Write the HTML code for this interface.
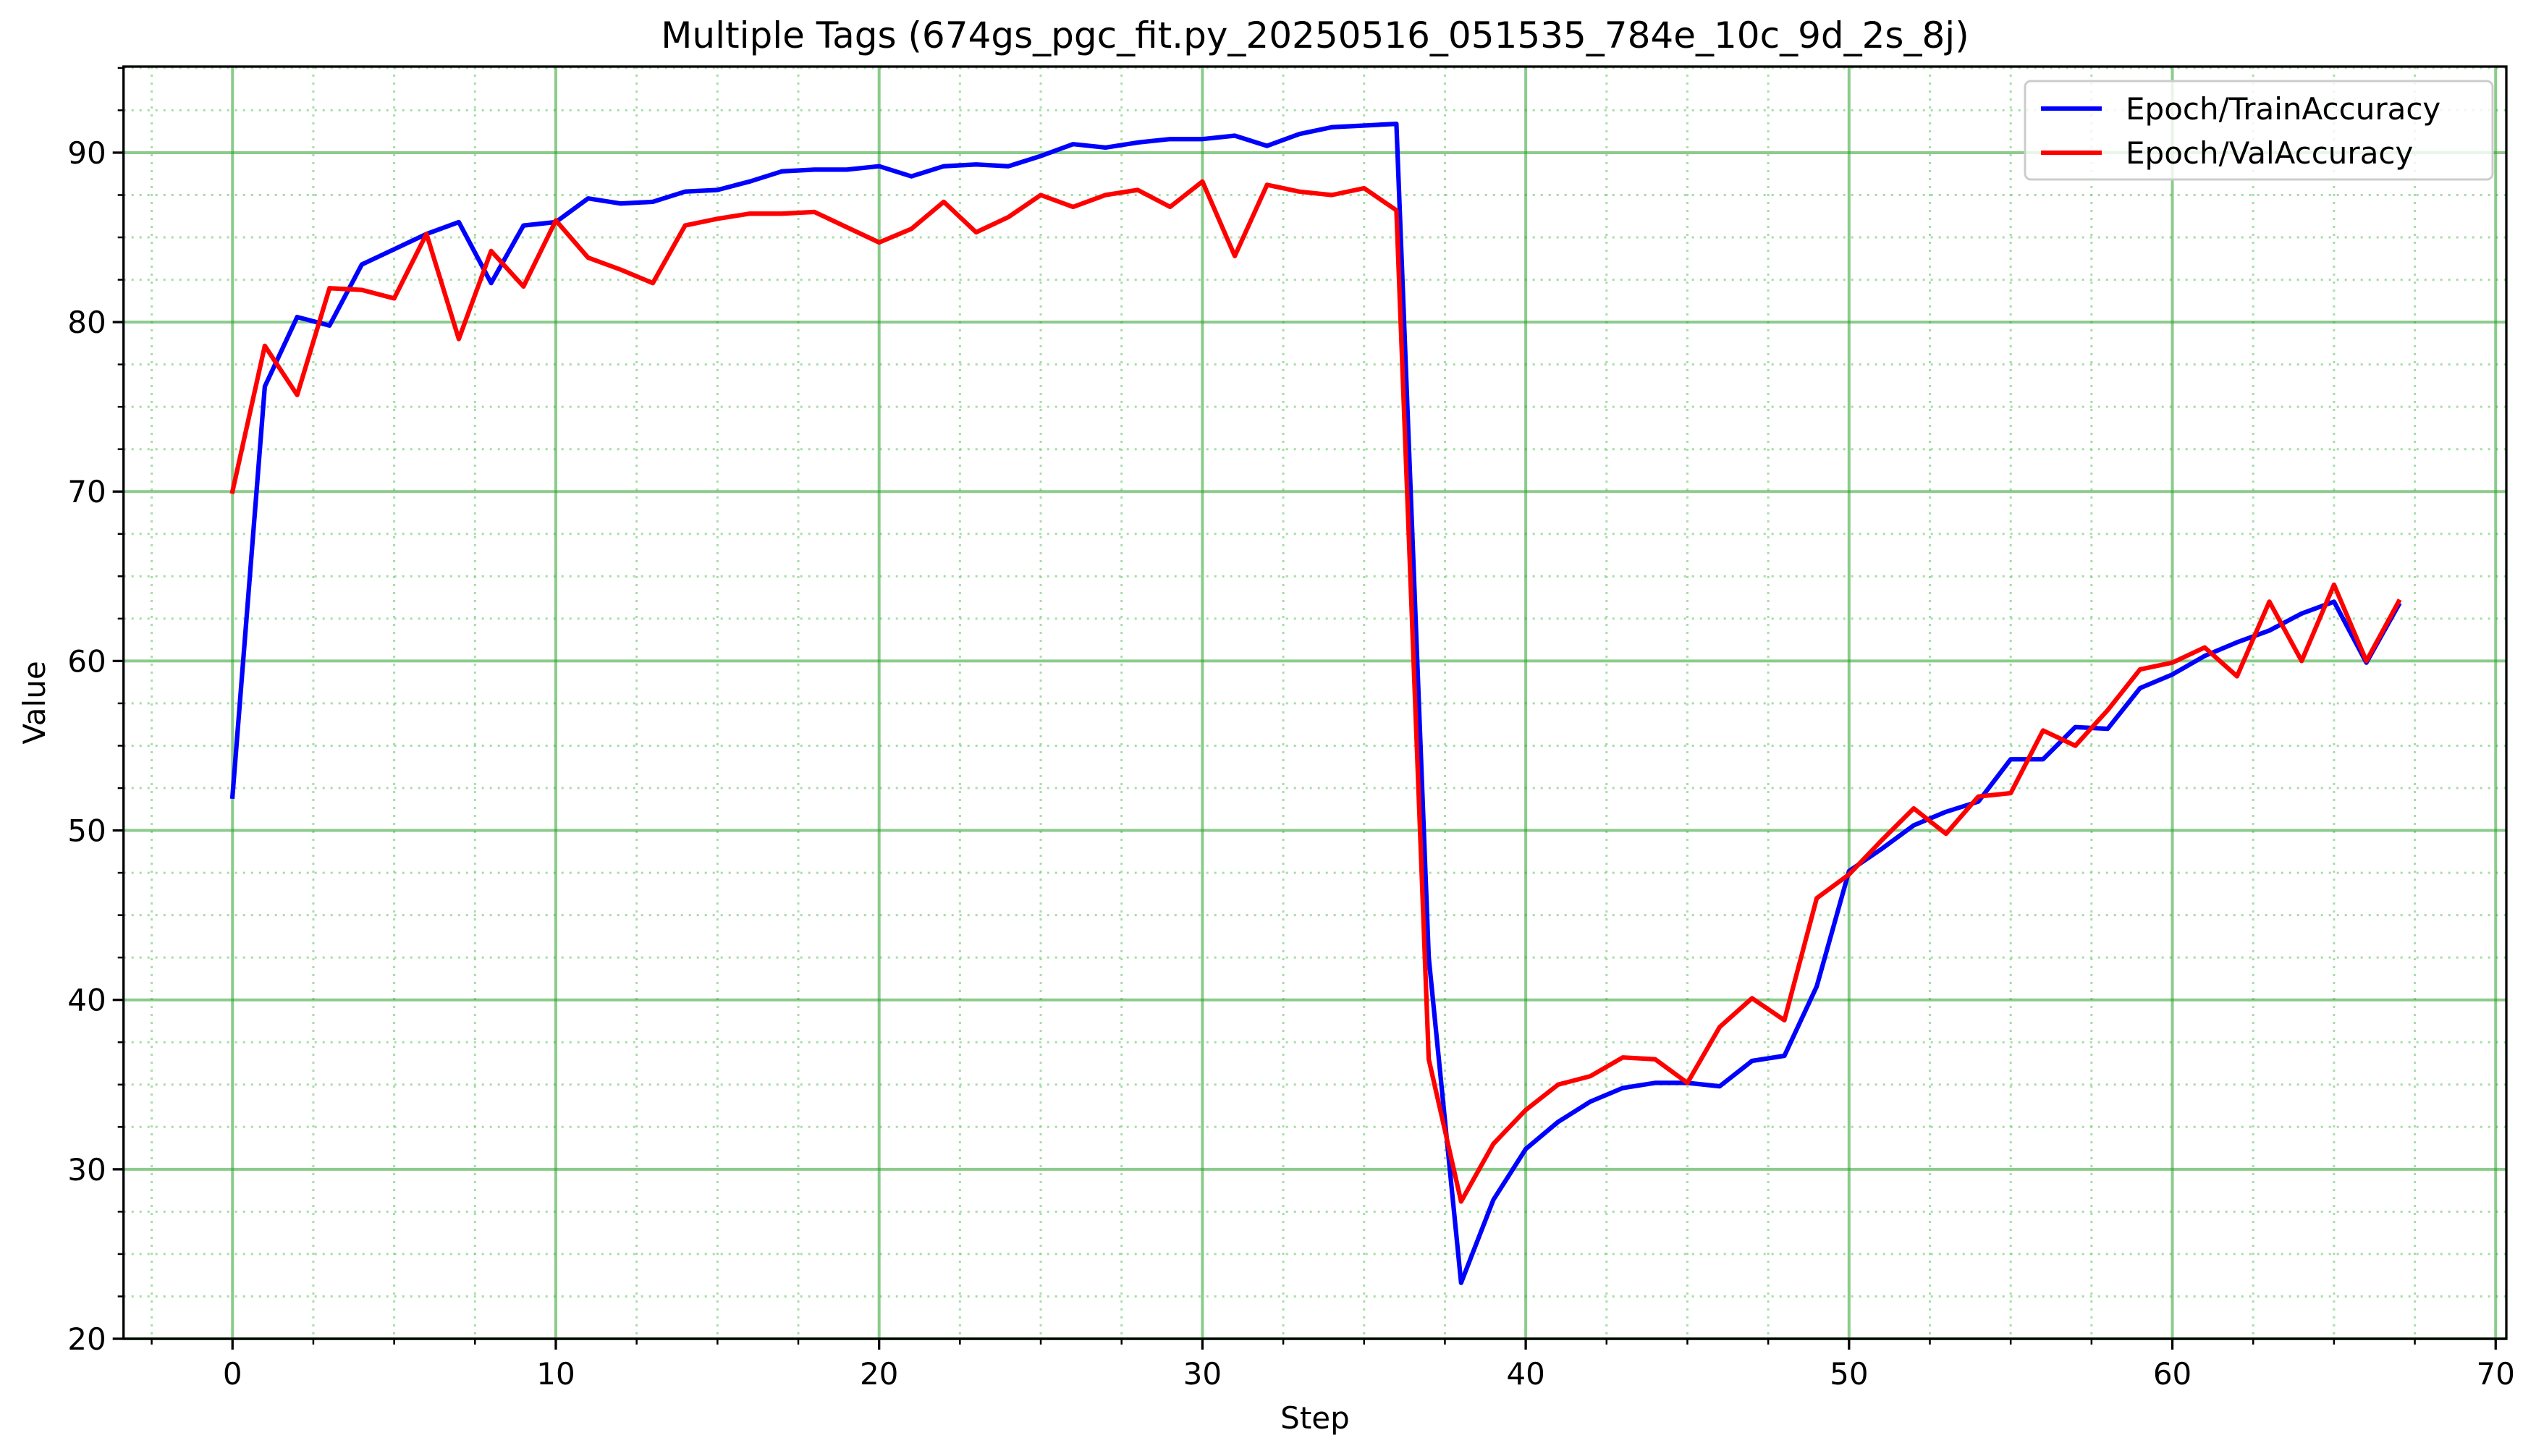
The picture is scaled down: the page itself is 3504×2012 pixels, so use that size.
<!DOCTYPE html>
<html><head><meta charset="utf-8"><style>
html,body{margin:0;padding:0;background:#fff}
svg{display:block;font-family:"DejaVu Sans","Liberation Sans",sans-serif}
</style></head><body>
<svg id="chart" width="3504" height="2012" viewBox="0 0 3504 2012" xmlns="http://www.w3.org/2000/svg">
<rect width="3504" height="2012" fill="#fff"/>
<g id="grid"></g>
<g id="series"></g>
<g id="axes"></g>
<text x="1817" y="66" font-size="50" text-anchor="middle">Multiple Tags (674gs_pgc_fit.py_20250516_051535_784e_10c_9d_2s_8j)</text>
<text x="1817" y="1974" font-size="42" text-anchor="middle">Step</text>
<text x="62" y="971" font-size="42" text-anchor="middle" transform="rotate(-90 62 971)">Value</text>
<g>
<rect x="2798" y="112" width="646" height="136" rx="8" fill="#fff" fill-opacity="0.8" stroke="#ccc" stroke-width="3"/>
<line x1="2820" y1="150" x2="2904" y2="150" stroke="#0000ff" stroke-width="6"/>
<text x="2937" y="165" font-size="42">Epoch/TrainAccuracy</text>
<line x1="2820" y1="211" x2="2904" y2="211" stroke="#ff0000" stroke-width="6"/>
<text x="2937" y="226" font-size="42">Epoch/ValAccuracy</text>
</g>
</svg>
<script>
const steps = [];
for (let i = 0; i <= 67; i++) steps.push(i);
const trainAcc = [52,76.2,80.3,79.8,83.4,84.3,85.2,85.9,82.3,85.7,85.9,87.3,87.0,87.1,87.7,87.8,88.3,88.9,89.0,89.0,89.2,88.6,89.2,89.3,89.2,89.8,90.5,90.3,90.6,90.8,90.8,91.0,90.4,91.1,91.5,91.6,91.7,42.5,23.3,28.2,31.2,32.8,34.0,34.8,35.1,35.1,34.9,36.4,36.7,40.8,47.6,48.9,50.3,51.1,51.7,54.2,54.2,56.1,56.0,58.4,59.2,60.3,61.1,61.8,62.8,63.5,59.9,63.3];
const valAcc = [70,78.6,75.7,82.0,81.9,81.4,85.2,79.0,84.2,82.1,86.0,83.8,83.1,82.3,85.7,86.1,86.4,86.4,86.5,85.6,84.7,85.5,87.1,85.3,86.2,87.5,86.8,87.5,87.8,86.8,88.3,83.9,88.1,87.7,87.5,87.9,86.6,36.5,28.1,31.5,33.5,35.0,35.5,36.6,36.5,35.1,38.4,40.1,38.8,46.0,47.4,49.4,51.3,49.8,52.0,52.2,55.9,55.0,57.1,59.5,59.9,60.8,59.1,63.5,60.0,64.5,60.0,63.5];
const xTicks = [0,10,20,30,40,50,60,70];
const yTicks = [20,30,40,50,60,70,80,90];

const L=170.7,R=3463,T=92,B=1850;
const X0=-3.37,X1=70.33,Y0=20,Y1=95.08;
const sx=v=>L+(v-X0)/(X1-X0)*(R-L);
const sy=v=>B-(v-Y0)/(Y1-Y0)*(B-T);
const NS="http://www.w3.org/2000/svg";
function mk(tag,attrs,parent){const e=document.createElementNS(NS,tag);for(const k in attrs)e.setAttribute(k,attrs[k]);parent.appendChild(e);return e;}
const grid=document.getElementById('grid'),axes=document.getElementById('axes'),series=document.getElementById('series');

// minor grid
for(let v=-2.5;v<=70.3;v+=2.5){ if(Math.abs(v%10)<1e-6) continue;
  const l=mk('line',{x1:sx(v),x2:sx(v),y1:T,y2:B,stroke:'#7fd07f','stroke-opacity':0.7,'stroke-width':3,'stroke-dasharray':'3 8'},grid);
  
  
  const t=mk('line',{x1:sx(v),x2:sx(v),y1:B,y2:B+8,stroke:'#000','stroke-width':2.5},axes);
  
  
}
for(let v=22.5;v<=95.05;v+=2.5){ if(Math.abs(v%10)<1e-6) continue;
  const l=mk('line',{x1:L,x2:R,y1:sy(v),y2:sy(v),stroke:'#7fd07f','stroke-opacity':0.7,'stroke-width':3,'stroke-dasharray':'3 8'},grid);
  
  
  const t=mk('line',{x1:L-8,x2:L,y1:sy(v),y2:sy(v),stroke:'#000','stroke-width':2.5},axes);
  
  
}
xTicks.forEach(v=>{
  const l=mk('line',{x1:sx(v),x2:sx(v),y1:T,y2:B,stroke:'#2ca02c','stroke-opacity':0.55,'stroke-width':4},grid);
  
  
  const t=mk('line',{x1:sx(v),x2:sx(v),y1:B,y2:B+15,stroke:'#000','stroke-width':3.3},axes);
  
  
  const tx=mk('text',{x:sx(v),y:B+63,'font-size':42,'text-anchor':'middle'},axes);
  tx.textContent=v;
  
  
});
yTicks.forEach(v=>{
  const l=mk('line',{x1:L,x2:R,y1:sy(v),y2:sy(v),stroke:'#2ca02c','stroke-opacity':0.55,'stroke-width':4},grid);
  
  
  const t=mk('line',{x1:L-15,x2:L,y1:sy(v),y2:sy(v),stroke:'#000','stroke-width':3.3},axes);
  
  
  const tx=mk('text',{x:L-24,y:sy(v)+15,'font-size':42,'text-anchor':'end'},axes);
  tx.textContent=v;
  
  
});
const frame=mk('rect',{x:L,y:T,width:R-L,height:B-T,fill:'none',stroke:'#000','stroke-width':3.3},axes);



function line(vals,color,name){
  const d=vals.map((v,i)=>(i?'L':'M')+sx(steps[i]).toFixed(1)+' '+sy(v).toFixed(1)).join(' ');
  const p=mk('path',{d:d,fill:'none',stroke:color,'stroke-width':6.25,'stroke-linejoin':'round','stroke-linecap':'square'},series);
  
  
}
line(trainAcc,'#0000ff','train-accuracy-line');
line(valAcc,'#ff0000','val-accuracy-line');
</script>
</body></html>
